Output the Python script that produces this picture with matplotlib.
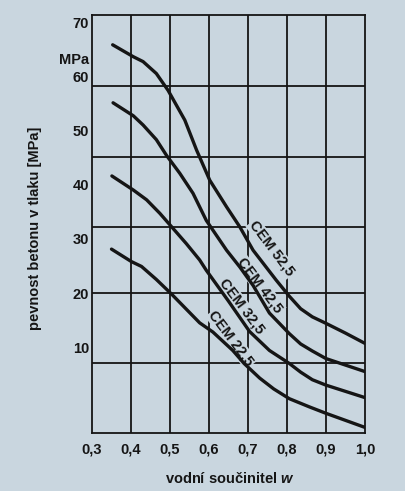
import matplotlib
matplotlib.use('Agg')
import matplotlib.pyplot as plt

plt.rcParams['font.family'] = ['Liberation Sans', 'DejaVu Sans']
plt.rcParams['font.weight'] = 'bold'
plt.rcParams['axes.labelweight'] = 'bold'
plt.rcParams['mathtext.fontset'] = 'custom'
plt.rcParams['mathtext.rm'] = 'Liberation Sans:bold'
plt.rcParams['mathtext.it'] = 'Liberation Sans:italic:bold'

# curve data: water/cement ratio w vs. compressive strength [MPa]
w_525 = [0.353, 0.406, 0.431, 0.465, 0.495, 0.538, 0.568, 0.602, 0.645, 0.679, 0.713, 0.772, 0.806, 0.835, 0.865, 0.9, 0.95, 1.0]
f_525 = [65.8, 63.6, 62.7, 60.5, 57.4, 51.9, 46.4, 40.8, 35.9, 32.2, 27.9, 22.4, 19.4, 17.1, 15.6, 14.4, 12.6, 10.7]

w_425 = [0.354, 0.406, 0.431, 0.465, 0.491, 0.525, 0.559, 0.593, 0.645, 0.679, 0.713, 0.755, 0.806, 0.835, 0.865, 0.9, 1.0]
f_425 = [55.1, 52.7, 51.0, 48.3, 45.4, 42.1, 38.4, 33.4, 27.9, 24.8, 21.4, 16.3, 12.5, 10.6, 9.3, 7.9, 5.5]

w_325 = [0.351, 0.406, 0.44, 0.474, 0.508, 0.542, 0.576, 0.593, 0.65, 0.704, 0.755, 0.806, 0.835, 0.865, 0.9, 1.0]
f_325 = [41.6, 39.0, 37.2, 34.7, 31.9, 29.1, 26.1, 24.2, 18.5, 12.9, 9.4, 7.0, 5.4, 4.0, 3.0, 0.7]

w_225 = [0.35, 0.401, 0.427, 0.465, 0.504, 0.576, 0.61, 0.661, 0.69, 0.73, 0.766, 0.806, 0.857, 0.9, 1.0]
f_225 = [28.1, 25.8, 24.9, 22.5, 19.8, 14.5, 12.8, 9.4, 7.0, 4.3, 2.3, 0.5, -1.0, -2.2, -4.8]

curve_names = ['CEM 52,5', 'CEM 42,5', 'CEM 32,5', 'CEM 22,5']
label_w = [0.761, 0.731, 0.683, 0.657]
label_f = [28.2, 21.4, 17.6, 11.6]

x_ticks = [0.3, 0.4, 0.5, 0.6, 0.7, 0.8, 0.9, 1.0]
x_ticklabels = ['0,3', '0,4', '0,5', '0,6', '0,7', '0,8', '0,9', '1,0']
y_ticks = [10, 20, 30, 40, 50, 60, 70]
# horizontal grid lines in the original do not sit on the tick labels
grid_y = [7.05, 19.97, 32.16, 45.08, 58.19]

bg = '#c9d6df'
ink = '#151515'
fs = 10.5

fig = plt.figure(figsize=(4.05, 4.91), dpi=100, facecolor=bg)
ax = fig.add_axes([92 / 405, 58 / 491, 273 / 405, 418 / 491], facecolor=bg)

for x in x_ticks[1:-1]:
    ax.axvline(x, color=ink, lw=1.3, zorder=2)
for y in grid_y:
    ax.axhline(y, color=ink, lw=1.3, zorder=2)

series = [(w_525, f_525), (w_425, f_425), (w_325, f_325), (w_225, f_225)]
for (w, f) in series:
    ax.plot(w, f, color=ink, lw=2.4, solid_capstyle='round', solid_joinstyle='round', zorder=4)

for name, lw_, lf in zip(curve_names, label_w, label_f):
    ax.text(lw_, lf, name, rotation=-53, rotation_mode='anchor', ha='center', va='center',
            fontsize=fs, color=ink, zorder=3,
            bbox=dict(facecolor=bg, edgecolor='none', pad=0.6))

ax.set_xlim(0.3, 1.0)
ax.set_ylim(-5.83, 71.3)
ax.set_xticks(x_ticks)
ax.set_xticklabels(x_ticklabels)
ax.set_yticks(y_ticks)
ax.set_yticklabels([str(v) for v in y_ticks])
ax.tick_params(axis='both', length=0, labelsize=fs, colors=ink)
ax.tick_params(axis='y', pad=2)
ax.tick_params(axis='x', pad=7)

for sp in ax.spines.values():
    sp.set_color(ink)
    sp.set_linewidth(1.3)

ax.text(-0.01, 63.0, 'MPa', transform=ax.get_yaxis_transform(), ha='right', va='center',
        fontsize=fs, color=ink)

ax.set_ylabel('pevnost betonu v tlaku [MPa]', fontsize=fs, color=ink, va='center', fontweight='bold')
ax.yaxis.set_label_coords(-0.209, 0.49)
ax.set_xlabel('vodní součinitel $w$', fontsize=fs, color=ink, va='center', fontweight='bold')
ax.xaxis.set_label_coords(0.505, -0.108)

fig.savefig('out.png', dpi=100, facecolor=bg)
